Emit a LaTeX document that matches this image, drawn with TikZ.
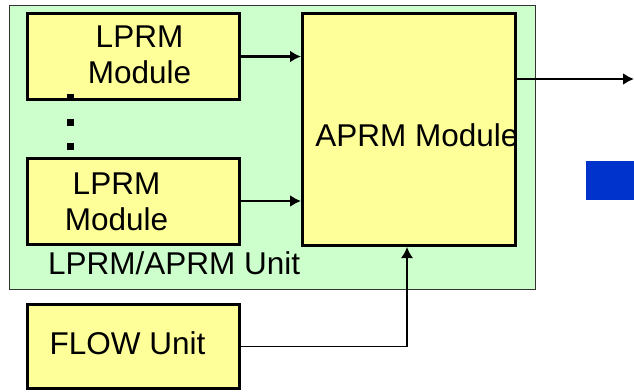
\documentclass[tikz,border=0pt]{standalone}
\usepackage{fontspec}
\setmainfont{Liberation Sans}
\usetikzlibrary{positioning,arrows.meta}

\definecolor{unitfill}{HTML}{CCFFCC}
\definecolor{modfill}{HTML}{FFFF99}
\definecolor{marker}{HTML}{0033CC}

\begin{document}
\begin{tikzpicture}[x=1pt,y=-1pt,>={Latex[length=11pt,width=12pt]},
    unitbox/.style={draw=black!80,line width=1pt,fill=unitfill,inner sep=0pt,
                    minimum width=526pt,minimum height=284pt},
    module/.style={draw,line width=3pt,fill=modfill,inner sep=0pt,
                   minimum width=212pt,minimum height=86pt},
    modtext/.style={align=center,inner sep=0pt,font=\fontsize{31.5}{36}\selectfont},
    dotsq/.style={fill=black,inner sep=0pt,minimum size=7pt},
    link/.style={->,line width=2.5pt}]
    \useasboundingbox (0,0) rectangle (634,391);

    \node[unitbox] (unit) at (272,147) {};

    % text sits a little off centre in the boxes
    \node[module,label={[modtext,xshift=6pt,yshift=2pt]center:LPRM\\Module}]
                   (lprm1) at (133.5,56.5) {};
    \node[module,label={[modtext,xshift=-17pt,yshift=-1pt]center:LPRM\\Module}]
                   (lprm2) at (133.5,201)  {};
    \node[module,minimum width=213pt,minimum height=232pt,
          label={[modtext,xshift=8pt,yshift=-6pt]center:APRM Module}]
                   (aprm)  at (409,129.5)  {};
    \node[module,minimum height=84pt,
          label={[modtext,xshift=-6pt,yshift=3pt]center:FLOW Unit}]
                   (flow)  at (133.5,346.5) {};

    \node[modtext,anchor=west] (unitname) at (48,263) {LPRM/APRM Unit};

    % the modules between the two that are shown
    \foreach \y [count=\i] in {97,122,146}
        \node[dotsq] (dot\i) at (70,\y) {};

    \node[fill=marker,inner sep=0pt,minimum width=48pt,minimum height=39pt]
                   (marker) at (610,180.5) {};

    \coordinate (out) at (634,79);

    \draw[link] (lprm1.east) -- (lprm1.east -| aprm.west);
    \draw[link] (lprm2.east) -- (lprm2.east -| aprm.west);
    \draw[link] (aprm.east |- out) -- (out);
    \draw[->,line width=1.5pt] (flow.east) -| ([xshift=-2pt]aprm.south);
\end{tikzpicture}
\end{document}
